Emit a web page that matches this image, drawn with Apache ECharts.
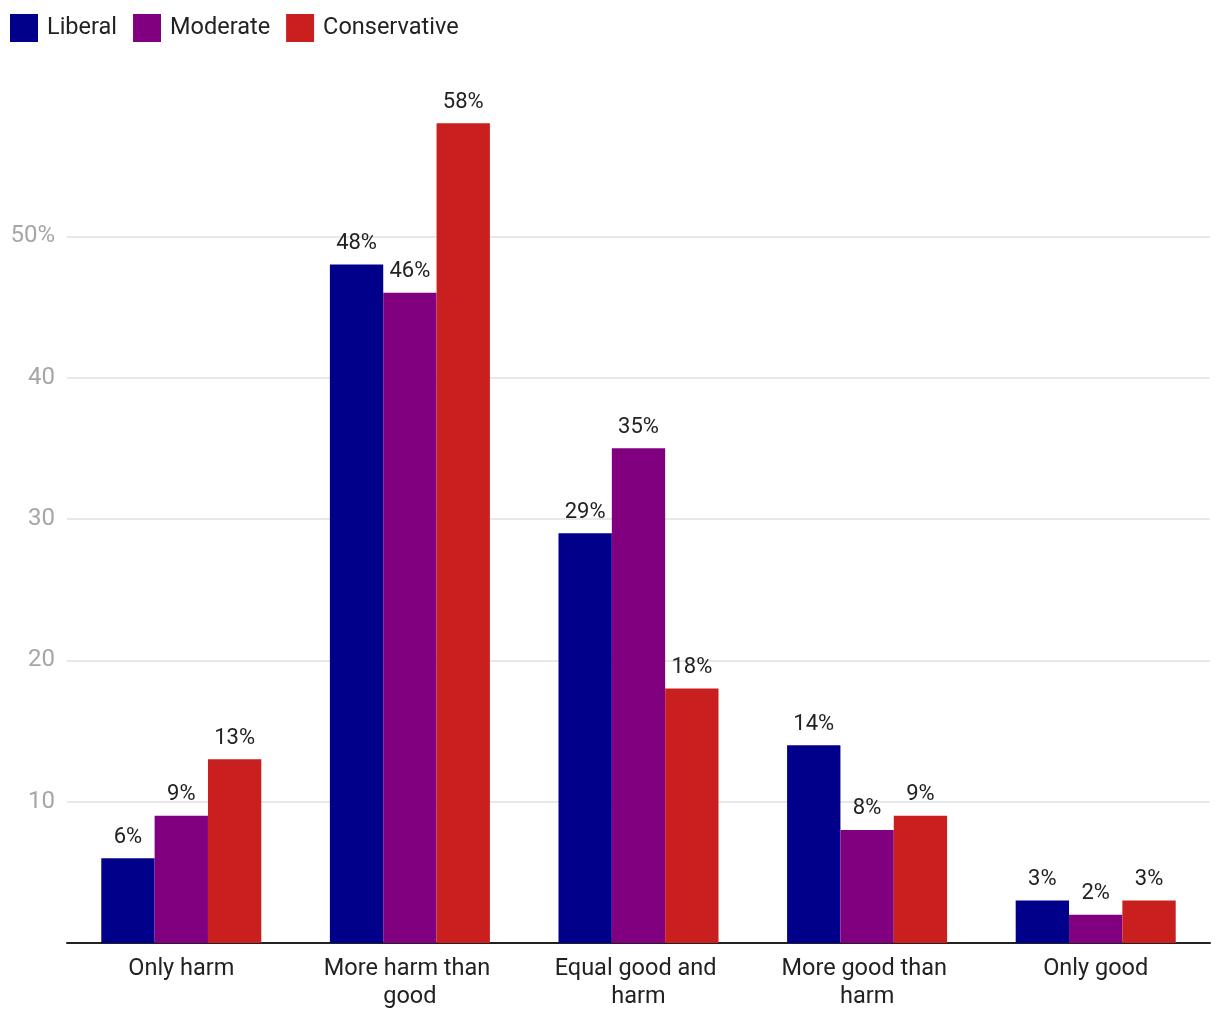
<!DOCTYPE html>
<html>
<head>
<meta charset="utf-8">
<script src="https://cdn.jsdelivr.net/npm/echarts@6/dist/echarts.min.js"></script>
<style>html,body{margin:0;padding:0;background:#fff}#c{width:1220px;height:1020px}</style>
</head>
<body>
<div id="c"></div>
<script>
const categories = ["Only harm", "More harm than good", "Equal good and harm", "More good than harm", "Only good"];
const liberal = [6, 48, 29, 14, 3];
const moderate = [9, 46, 35, 8, 2];
const conservative = [13, 58, 18, 9, 3];
const seriesNames = ["Liberal", "Moderate", "Conservative"];
const colors = ["#00008B", "#800080", "#C91F1F"];

const chart = echarts.init(document.getElementById('c'), null, {renderer: 'canvas'});
const font = 'Roboto';
const labelCfg = {show: true, position: 'top', distance: 10, color: '#222', fontSize: 22, fontFamily: font, formatter: p => p.value + '%'};
function mk(name, data, color) {
  return {name, type: 'bar', data, itemStyle: {color}, barGap: '0%', barCategoryGap: '30%', label: labelCfg};
}
chart.setOption({
  animation: false,
  color: colors,
  legend: {
    left: 10, top: 14, padding: 0, itemWidth: 28, itemHeight: 28, itemGap: 16,
    icon: 'rect',
    textStyle: {fontSize: 23.5, color: '#222', fontFamily: font, padding: [0, 0, 0, 4]},
    data: seriesNames
  },
  grid: {left: 67, right: 10, top: 95, bottom: 77, containLabel: false},
  xAxis: {
    type: 'category', data: categories,
    axisLine: {lineStyle: {color: '#222', width: 2}},
    axisTick: {show: false},
    axisLabel: {fontSize: 23.5, color: '#222', fontFamily: font, margin: 12, width: 205, overflow: 'break', lineHeight: 28, interval: 0}
  },
  yAxis: {
    type: 'value', min: 0, max: 60, interval: 10,
    axisLine: {show: false}, axisTick: {show: false},
    splitLine: {lineStyle: {color: ['#e0e0e0','#e0e0e0','#e0e0e0','#e0e0e0','#e0e0e0','#e0e0e0','rgba(0,0,0,0)'], width: 1.5}},
    axisLabel: {fontSize: 24, color: '#a6a6a6', fontFamily: font, margin: 12,
      formatter: v => v === 0 || v === 60 ? '' : (v === 50 ? v + '%' : String(v))}
  },
  series: [
    mk(seriesNames[0], liberal, colors[0]),
    mk(seriesNames[1], moderate, colors[1]),
    mk(seriesNames[2], conservative, colors[2])
  ]
});
</script>
</body>
</html>
